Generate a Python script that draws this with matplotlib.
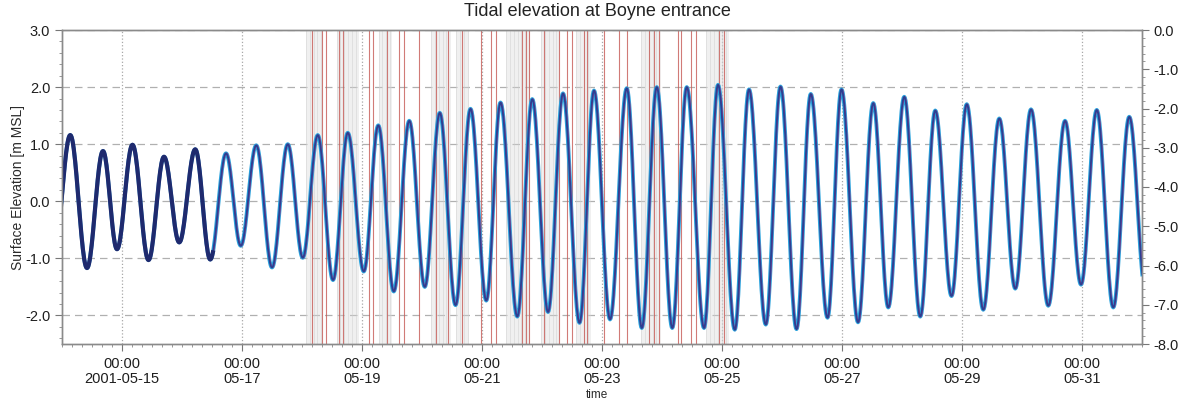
import numpy as np
import matplotlib.pyplot as plt
import matplotlib.dates as mdates
from matplotlib.ticker import MultipleLocator, FormatStrFormatter

plt.rcParams['font.family'] = ['Liberation Sans', 'DejaVu Sans']

start = np.datetime64('2001-05-14T00:00')

# high / low water turning points
# (hours after 2001-05-14 00:00, elevation in m MSL)
turn_hours = [-3.2, 3.3, 10.0, 16.4, 22.0, 28.2, 34.6, 40.8, 46.9, 53.3, 59.3,
              65.6, 71.5, 77.7, 84.0, 90.3, 96.3, 102.3, 108.4, 114.3, 120.7,
              126.5, 132.7, 138.9, 145.1, 151.1, 157.4, 163.4, 169.7, 175.4,
              182.1, 188.1, 194.4, 200.4, 207.0, 212.8, 219.2, 225.9, 231.9,
              237.9, 244.1, 249.9, 256.8, 262.4, 269.1, 274.8, 281.5, 287.4,
              293.8, 299.5, 306.2, 311.8, 318.4, 324.5, 330.5, 336.9, 343.3,
              349.3, 355.8, 361.9, 368.5, 374.9, 381.3, 387.6, 394.5, 401.2,
              407.6, 413.9, 420.5, 426.9, 433.5]
turn_elev = [-0.90, 1.16, -1.17, 0.88, -0.84, 0.99, -1.03, 0.78, -0.72, 0.91, -1.02,
             0.84, -0.78, 0.98, -1.16, 1.00, -0.99, 1.16, -1.38, 1.20, -1.23,
             1.33, -1.58, 1.41, -1.50, 1.55, -1.82, 1.62, -1.74, 1.73,
             -2.02, 1.79, -1.94, 1.89, -2.13, 1.94, -2.07, 1.98, -2.22,
             2.00, -2.22, 2.00, -2.22, 2.04, -2.25, 1.96, -2.16, 2.01,
             -2.24, 1.88, -2.04, 1.96, -2.12, 1.72, -1.86, 1.83, -2.02,
             1.59, -1.66, 1.70, -1.90, 1.45, -1.53, 1.61, -1.83, 1.41,
             -1.46, 1.60, -1.86, 1.48, -1.60]

obs_end_hours = 60.5      # measured record (dark line) stops here
model_lag_hours = 0.2

# marker lines and shaded periods (hours after start)
red_hours = [100.0, 104.0, 105.4, 110.8, 112.4, 122.8, 124.2, 130.1, 134.7, 136.7,
             142.7, 149.4, 154.2, 160.1, 167.4, 171.4, 173.4, 184.1, 185.4, 186.7,
             192.7, 198.8, 202.1, 204.1, 208.8, 210.1, 216.8, 222.8, 226.1, 234.8,
             236.8, 238.8, 246.2, 247.5, 251.5, 253.5, 262.8, 264.8]
grey_spans = [(97.4, 104.2), (109.8, 118.6), (126.6, 132.2), (147.4, 155.4),
              (157.4, 162.6), (177.4, 187.4), (191.4, 199.4), (205.4, 211.4),
              (231.4, 239.4), (257.5, 266.7)]

tick_days = ['2001-05-15', '2001-05-17', '2001-05-19', '2001-05-21', '2001-05-23',
             '2001-05-25', '2001-05-27', '2001-05-29', '2001-05-31']
tick_labels = ['00:00\n2001-05-15', '00:00\n05-17', '00:00\n05-19', '00:00\n05-21',
               '00:00\n05-23', '00:00\n05-25', '00:00\n05-27', '00:00\n05-29',
               '00:00\n05-31']


def to_time(h):
    return start + (np.asarray(h) * 3600).astype('timedelta64[s]')


def tide_curve(hours, elev, n=24):
    hh, ee = [], []
    for i in range(len(hours) - 1):
        s = np.linspace(0, 1, n, endpoint=False)
        hh.append(hours[i] + s * (hours[i + 1] - hours[i]))
        ee.append((elev[i] + elev[i + 1]) / 2 + (elev[i] - elev[i + 1]) / 2 * np.cos(np.pi * s))
    hh.append([hours[-1]])
    ee.append([elev[-1]])
    return np.concatenate(hh), np.concatenate(ee)


h, e = tide_curve(turn_hours, turn_elev)

fig = plt.figure(figsize=(11.81, 4.0), dpi=100)
ax = fig.add_axes([62 / 1181, 56 / 400, 1080 / 1181, 314 / 400])

for a, b in grey_spans:
    ax.axvspan(to_time(a), to_time(b), color='#d6d6d6', alpha=0.35, lw=0, zorder=1)
    for g in np.arange(a, b, 1.6):
        ax.axvline(to_time(g), color='#cccccc', lw=0.6, alpha=0.5, zorder=1.2)
for r in red_hours:
    ax.axvline(to_time(r), color='#c65a55', lw=0.8, alpha=0.8, zorder=1.5)

ax.plot(to_time(h), e, color='#2aa2dc', lw=2.8, zorder=3)
ax.plot(to_time(h + model_lag_hours), e, color='#b8347e', lw=0.9, zorder=3.2)
ax.plot(to_time(h), e, color='#2c3f92', lw=1.3, zorder=3.4)
m = h <= obs_end_hours
ax.plot(to_time(h[m]), e[m], color='#1f2a6e', lw=3.0, zorder=4)

ax.set_xlim(start, start + np.timedelta64(18, 'D'))
ax.set_ylim(-2.5, 3.0)
ax.set_xticks([np.datetime64(d + 'T00:00') for d in tick_days])
ax.set_xticklabels(tick_labels, linespacing=1.15)
ax.xaxis.set_minor_locator(mdates.HourLocator(byhour=range(0, 24, 4)))
ax.yaxis.set_major_locator(MultipleLocator(1.0))
ax.yaxis.set_minor_locator(MultipleLocator(0.2))
ax.yaxis.set_major_formatter(FormatStrFormatter('%.1f'))

ax.grid(axis='x', which='major', linestyle=':', color='#a8a8a8', lw=0.9, zorder=0)
ax.grid(axis='y', which='major', linestyle=(0, (6, 4)), color='#b0b0b0', lw=0.9, zorder=0)
ax.set_axisbelow(True)

ax2 = ax.twinx()
ax2.set_ylim(-8, 0)
ax2.yaxis.set_major_locator(MultipleLocator(1.0))
ax2.yaxis.set_minor_locator(MultipleLocator(0.2))
ax2.yaxis.set_major_formatter(FormatStrFormatter('%.1f'))

for a_ in (ax, ax2):
    a_.tick_params(which='major', length=5, width=0.8, color='#777777',
                   labelsize=10.5, labelcolor='#1e1e1e')
    a_.tick_params(which='minor', length=2.5, width=0.6, color='#888888')
    for s in a_.spines.values():
        s.set_color('#8a8a8a')
        s.set_linewidth(1.0)
ax.tick_params(axis='x', which='major', pad=4)

fig.text(597 / 1181, 1 - 12 / 400, 'Tidal elevation at Boyne entrance',
         ha='center', va='center', fontsize=13, color='#222222')
fig.text(18 / 1181, 1 - 187 / 400, 'Surface Elevation [m MSL]', rotation=90,
         ha='center', va='center', fontsize=10, color='#2a2a2a')
fig.text(597 / 1181, 1 - 395 / 400, 'time', ha='center', va='center',
         fontsize=8.5, color='#2a2a2a')

fig.savefig('out.png', dpi=100)
